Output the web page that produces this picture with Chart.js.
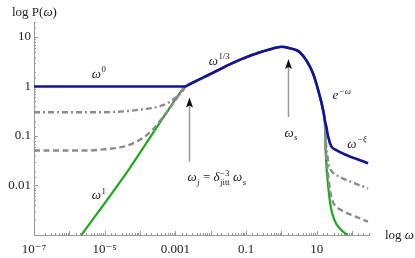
<!DOCTYPE html>
<html>
<head>
<meta charset="utf-8">
<script src="https://cdn.jsdelivr.net/npm/chart.js@4"></script>
<style>
  html, body { margin: 0; padding: 0; background: #fff; }
</style>
</head>
<body>
<canvas id="spectrum" width="415" height="258"></canvas>
<script>
// ---- values (omega, P(omega)) ----
// low-frequency parts
var blueLowW = [1e-7];
var blueLowP = [1];
var greenLowW = [2.2e-6, 4.8e-5, 5e-4];
var greenLowP = [0.001, 0.021, 0.26];
var dashDotLowW = [1e-7, 1e-5, 3.98e-5, 1.26e-4, 2.51e-4, 4.47e-4, 7.08e-4, 1.05e-3, 1.41e-3, 1.66e-3];
var dashDotLowP = [0.302, 0.302, 0.316, 0.347, 0.372, 0.417, 0.49, 0.603, 0.724, 0.832];
var dashedLowW = [1e-7, 3.16e-6, 1e-5, 3.16e-5, 6.31e-5, 1.26e-4, 2.51e-4, 5.01e-4, 1e-3];
var dashedLowP = [0.051, 0.051, 0.054, 0.060, 0.071, 0.093, 0.145, 0.269, 0.525];

// shared part, omega_j up to the start of the cut-off
var peakW = [0.0019, 0.0026, 0.0098, 0.0355, 0.129, 0.479, 1.02, 1.74, 2.69, 3.31, 5.13, 7.94, 11.0, 15.1, 16.8];
var peakP = [1, 1.12, 1.78, 2.82, 4.17, 5.62, 6.31, 5.89, 5.37, 4.9, 3.31, 1.78, 0.83, 0.331, 0.209];

// high-frequency tails
var blueTailW = [18.6, 20.9, 25.7, 35.5, 282];
var blueTailP = [0.155, 0.098, 0.062, 0.052, 0.028];
var greenTailW = [17.9, 20.9, 25.1, 31.6, 44.7, 74.1];
var greenTailP = [0.0447, 0.01, 0.00355, 0.002, 0.00135, 0.001];
var dashDotTailW = [18.2, 20.4, 22.9, 28.2, 35.5, 282];
var dashDotTailP = [0.072, 0.036, 0.024, 0.0182, 0.0162, 0.0087];
var dashedTailW = [18.0, 20.4, 23.4, 28.2, 35.5, 44.7, 282];
var dashedTailP = [0.055, 0.02, 0.0085, 0.0048, 0.0037, 0.0033, 0.00186];

// tick labels
var xTickExp = [-7, -5, -3, -1, 1];
var xTickText = ['10\u207B\u2077', '10\u207B\u2075', '0.001', '0.1', '10'];
var yTickExp = [1, 0, -1, -2];
var yTickText = ['10', '1', '0.1', '0.01'];

var serif = '"Liberation Serif", "DejaVu Serif", serif';

function pts(w1, p1, w2, p2, w3, p3) {
  var w = w1.concat(w2, w3), p = p1.concat(p2, p3), out = [];
  for (var i = 0; i < w.length; i++) out.push({x: w[i], y: p[i]});
  return out;
}

function tickText(exps, texts) {
  return function (v) {
    var l = Math.log10(v), e = Math.round(l);
    if (Math.abs(l - e) > 1e-6) return '';
    var k = exps.indexOf(e);
    return k < 0 ? '' : texts[k];
  };
}

function isDecade(v) {
  var l = Math.log10(v);
  return Math.abs(l - Math.round(l)) < 1e-6;
}

// ---- text with super/subscripts ----
function fontOf(size, it) { return (it ? 'italic ' : '') + size + 'px ' + serif; }

function partWidth(ctx, p, size) {
  ctx.font = fontOf(size, p.i);
  var w = ctx.measureText(p.t).width, s = 0;
  if (p.sup) { ctx.font = fontOf(size * 0.68, p.si); s = Math.max(s, ctx.measureText(p.sup).width); }
  if (p.sub) { ctx.font = fontOf(size * 0.68, p.bi); s = Math.max(s, ctx.measureText(p.sub).width); }
  return w + (s ? s + 0.5 : 0);
}

function drawRich(ctx, parts, x, y, align, size) {
  size = size || 13;
  var total = 0;
  parts.forEach(function (p) { total += partWidth(ctx, p, size); });
  var cx = align === 'left' ? x : x - total / 2;
  var base = y + 4;
  ctx.textAlign = 'left';
  ctx.textBaseline = 'alphabetic';
  parts.forEach(function (p) {
    ctx.font = fontOf(size, p.i);
    ctx.fillText(p.t, cx, base);
    var bw = ctx.measureText(p.t).width;
    if (p.sup) { ctx.font = fontOf(size * 0.68, p.si); ctx.fillText(p.sup, cx + bw + 0.5, base - size * 0.42); }
    if (p.sub) { ctx.font = fontOf(size * 0.68, p.bi); ctx.fillText(p.sub, cx + bw + 0.5, base + size * 0.25); }
    cx += partWidth(ctx, p, size);
  });
}

// annotations, placed in data coordinates
var notes = [
  {parts: [{t: '\u03C9', i: 1, sup: '0'}], x: 6.8e-6, y: 1.8},
  {parts: [{t: '\u03C9', i: 1, sup: '1'}], x: 6.8e-6, y: 0.0063},
  {parts: [{t: '\u03C9', i: 1, sup: '1/3'}], x: 0.0174, y: 3.3},
  {parts: [{t: 'e', i: 1, sup: '\u2212\u03C9', si: 1}], x: 51, y: 0.66},
  {parts: [{t: '\u03C9', i: 1, sup: '\u2212\u03BE', si: 1}], x: 138, y: 0.069},
  {parts: [{t: '\u03C9', i: 1, sub: 's', bi: 1}], x: 1.86, y: 0.115},
  {parts: [{t: '\u03C9', i: 1, sub: 'j', bi: 1}, {t: ' = '}, {t: '\u03B4', i: 1, sub: 'jitt', sup: '\u22123'}, {t: ' \u03C9', i: 1, sub: 's', bi: 1}],
   x: 0.0022, y: 0.0145, align: 'left'}
];
var arrows = [
  {x: 0.0025, from: 0.03, to: 0.6},
  {x: 1.5, from: 0.24, to: 3.6}
];

var axisMarks = {
  id: 'axisMarks',
  beforeDatasetsDraw: function (chart) {
    var ctx = chart.ctx, a = chart.chartArea, sx = chart.scales.x, sy = chart.scales.y;
    ctx.save();
    ctx.strokeStyle = '#9a9a9a';
    ctx.lineWidth = 1;
    sx.ticks.forEach(function (t) {
      var px = Math.round(sx.getPixelForValue(t.value)) + 0.5;
      ctx.beginPath();
      ctx.moveTo(px, a.bottom);
      ctx.lineTo(px, a.bottom - (isDecade(t.value) ? 4 : 2));
      ctx.stroke();
    });
    sy.ticks.forEach(function (t) {
      var py = Math.round(sy.getPixelForValue(t.value)) + 0.5;
      ctx.beginPath();
      ctx.moveTo(a.left, py);
      ctx.lineTo(a.left + (isDecade(t.value) ? 4 : 2), py);
      ctx.stroke();
    });
    ctx.restore();
  },
  afterDatasetsDraw: function (chart) {
    var ctx = chart.ctx, a = chart.chartArea, sx = chart.scales.x, sy = chart.scales.y;
    ctx.save();
    arrows.forEach(function (ar) {
      var px = Math.round(sx.getPixelForValue(ar.x)) + 0.5;
      var y0 = sy.getPixelForValue(ar.from), y1 = sy.getPixelForValue(ar.to);
      ctx.strokeStyle = '#9a9a9a';
      ctx.lineWidth = 1.5;
      ctx.beginPath();
      ctx.moveTo(px, y0);
      ctx.lineTo(px, y1 + 6);
      ctx.stroke();
      ctx.fillStyle = '#111';
      ctx.beginPath();
      ctx.moveTo(px, y1);
      ctx.lineTo(px - 3.5, y1 + 10);
      ctx.lineTo(px, y1 + 8);
      ctx.lineTo(px + 3.5, y1 + 10);
      ctx.closePath();
      ctx.fill();
    });
    ctx.fillStyle = '#222';
    notes.forEach(function (n) {
      drawRich(ctx, n.parts, sx.getPixelForValue(n.x), sy.getPixelForValue(n.y), n.align);
    });
    drawRich(ctx, [{t: 'log P('}, {t: '\u03C9', i: 1}, {t: ')'}], a.left - 22, a.top - 10, 'left');
    drawRich(ctx, [{t: 'log '}, {t: '\u03C9', i: 1}], a.right + 16, a.bottom, 'left');
    ctx.restore();
  }
};

var ctx = document.getElementById('spectrum');
var chart = new Chart(ctx, {
  type: 'line',
  data: {
    datasets: [
      {
        data: pts(blueLowW, blueLowP, peakW, peakP, blueTailW, blueTailP),
        borderColor: '#1010a8', borderWidth: 2.6
      },
      {
        data: pts(dashDotLowW, dashDotLowP, peakW, peakP, dashDotTailW, dashDotTailP),
        borderColor: '#8c8c8c', borderWidth: 2.4, borderDash: [6, 3, 2, 3]
      },
      {
        data: pts(dashedLowW, dashedLowP, peakW, peakP, dashedTailW, dashedTailP),
        borderColor: '#8c8c8c', borderWidth: 2.4, borderDash: [6, 3.5]
      },
      {
        data: pts(greenLowW, greenLowP, peakW, peakP, greenTailW, greenTailP),
        borderColor: '#1aaa1a', borderWidth: 2.2
      }
    ]
  },
  options: {
    responsive: false,
    animation: false,
    devicePixelRatio: 1,
    layout: { padding: { top: 22, right: 46, left: 0, bottom: 0 } },
    elements: {
      point: { radius: 0 },
      line: { cubicInterpolationMode: 'monotone', fill: false }
    },
    plugins: { legend: { display: false }, tooltip: { enabled: false } },
    scales: {
      x: {
        type: 'logarithmic', min: 1e-7, max: 300,
        grid: { display: true, drawOnChartArea: false, drawTicks: false },
        border: { display: true, color: '#9a9a9a', width: 1 },
        ticks: {
          autoSkip: false, maxRotation: 0, padding: 7, color: '#222',
          font: { family: serif, size: 13 },
          callback: tickText(xTickExp, xTickText)
        },
        afterFit: function (s) { s.height = 23; }
      },
      y: {
        type: 'logarithmic', min: 0.001, max: 20,
        grid: { display: true, drawOnChartArea: false, drawTicks: false },
        border: { display: true, color: '#9a9a9a', width: 1 },
        ticks: {
          autoSkip: false, padding: 3, color: '#222',
          font: { family: serif, size: 13 },
          callback: tickText(yTickExp, yTickText)
        },
        afterFit: function (s) { s.width = 34; }
      }
    }
  },
  plugins: [axisMarks]
});
</script>
</body>
</html>
